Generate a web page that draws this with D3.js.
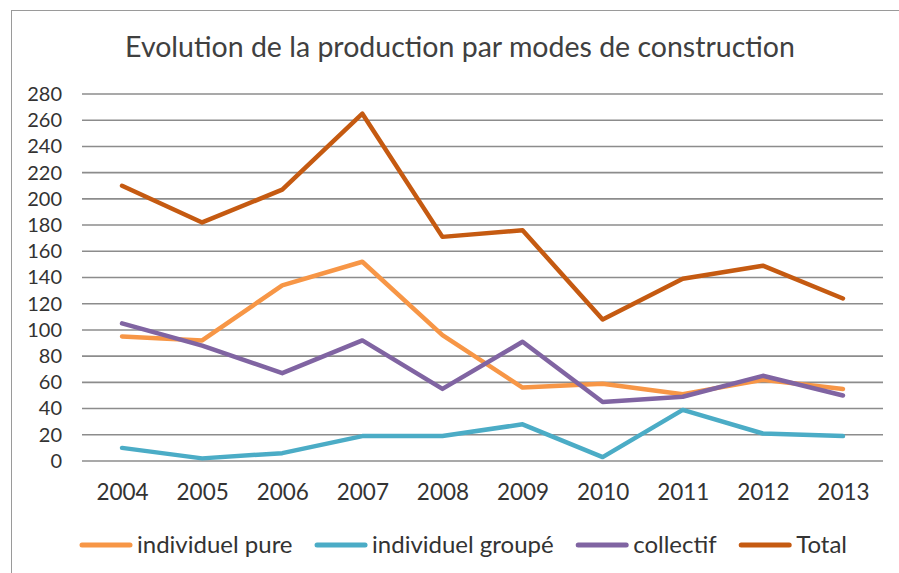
<!DOCTYPE html>
<html>
<head>
<meta charset="utf-8">
<script src="https://cdn.jsdelivr.net/npm/d3@7"></script>
<style>
  html, body { margin: 0; padding: 0; background: #fff; }
  svg { display: block; font-family: Lato, "Open Sans", sans-serif; }
</style>
</head>
<body>
<div id="chart"></div>
<script>
const years = ["2004", "2005", "2006", "2007", "2008", "2009", "2010", "2011", "2012", "2013"];
const individuelPure = [95, 92, 134, 152, 96, 56, 59, 51, 62, 55];
const individuelGroupe = [10, 2, 6, 19, 19, 28, 3, 39, 21, 19];
const collectif = [105, 88, 67, 92, 55, 91, 45, 49, 65, 50];
const total = [210, 182, 207, 265, 171, 176, 108, 139, 149, 124];
const yTicks = [0, 20, 40, 60, 80, 100, 120, 140, 160, 180, 200, 220, 240, 260, 280];

const series = [
    { name: "individuel pure", values: individuelPure, color: "#F79646" },
    { name: "individuel groupé", values: individuelGroupe, color: "#4BACC6" },
    { name: "collectif", values: collectif, color: "#8064A2" },
    { name: "Total", values: total, color: "#C55A11" }
];

const W = 899, H = 573;
const plot = { left: 82, right: 883, top: 94, bottom: 461 };
const textColor = "#333333";
const gridColor = "#8c8c8c";

const svg = d3.select("#chart").append("svg")
    .attr("width", W)
    .attr("height", H);

// chart border (right and bottom edges fall outside the crop)
svg.append("rect")
    .attr("x", 11.5)
    .attr("y", 10.5)
    .attr("width", 1000)
    .attr("height", 1000)
    .attr("fill", "none")
    .attr("stroke", "#9a9a9a")
    .attr("stroke-width", 1);

// title
svg.append("text")
    .attr("x", 460)
    .attr("y", 57)
    .attr("text-anchor", "middle")
    .style("font-size", "28.5px")
    .style("fill", "#404040")
    .text("Evolution de la production par modes de construction");

const x = d3.scalePoint()
    .domain(years)
    .range([plot.left, plot.right])
    .padding(0.5);

const y = d3.scaleLinear()
    .domain([0, 280])
    .range([plot.bottom, plot.top]);

// gridlines
svg.append("g")
    .selectAll("line")
    .data(yTicks)
    .enter().append("line")
    .attr("x1", plot.left)
    .attr("x2", plot.right)
    .attr("y1", d => y(d))
    .attr("y2", d => y(d))
    .attr("stroke", gridColor)
    .attr("stroke-width", 1.6);

// y axis labels
const yAxis = svg.append("g")
    .attr("transform", `translate(${plot.left - 10},0)`)
    .call(d3.axisLeft(y).tickValues(yTicks).tickSize(0).tickPadding(10));
yAxis.select(".domain").remove();
yAxis.selectAll("text")
    .style("font-family", "Lato, 'Open Sans', sans-serif")
    .style("font-size", "20px")
    .style("fill", textColor);

// x axis labels
const xAxis = svg.append("g")
    .attr("transform", `translate(0,${plot.bottom + 15})`)
    .call(d3.axisBottom(x).tickSize(0).tickPadding(8));
xAxis.select(".domain").remove();
xAxis.selectAll("text")
    .style("font-family", "Lato, 'Open Sans', sans-serif")
    .style("font-size", "22.5px")
    .style("fill", textColor);

// lines
const line = d3.line()
    .x((d, i) => x(years[i]))
    .y(d => y(d));

svg.append("g")
    .selectAll("path")
    .data(series)
    .enter().append("path")
    .attr("d", d => line(d.values))
    .attr("fill", "none")
    .attr("stroke", d => d.color)
    .attr("stroke-width", 4.5)
    .attr("stroke-linejoin", "round")
    .attr("stroke-linecap", "round");

// legend
const legendY = 545;
const legend = svg.append("g");
let lx = 82;
series.forEach(s => {
    legend.append("line")
        .attr("x1", lx)
        .attr("x2", lx + 48)
        .attr("y1", legendY)
        .attr("y2", legendY)
        .attr("stroke", s.color)
        .attr("stroke-width", 5)
        .attr("stroke-linecap", "round");
    const t = legend.append("text")
        .attr("x", lx + 55)
        .attr("y", legendY + 8)
        .style("font-size", "24px")
        .style("fill", textColor)
        .text(s.name);
    lx += 55 + t.node().getComputedTextLength() + 24.5;
});
</script>
</body>
</html>
